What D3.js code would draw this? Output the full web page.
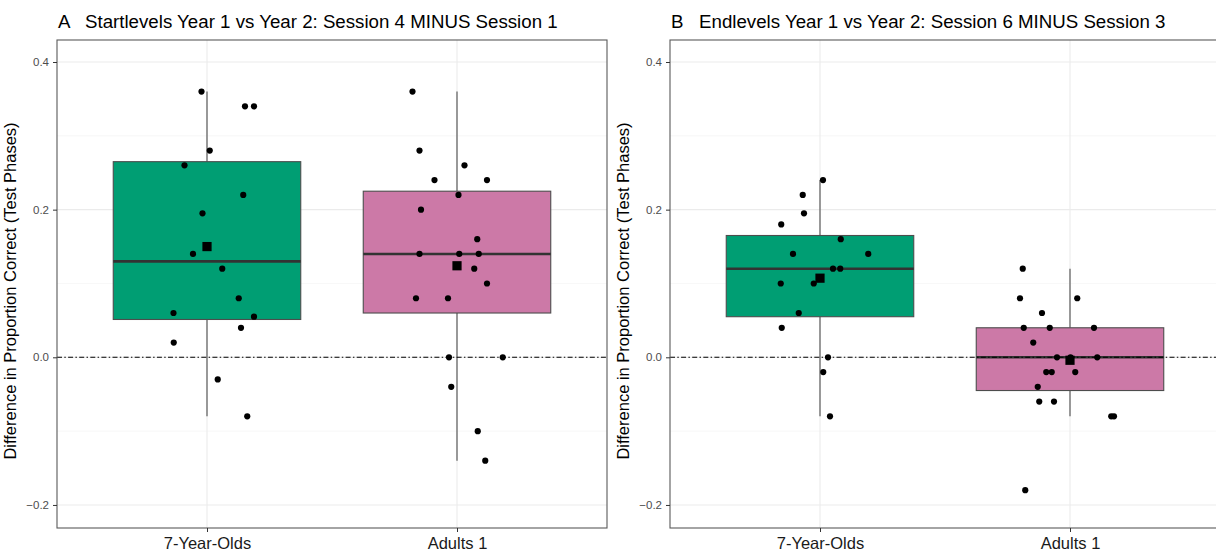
<!DOCTYPE html>
<html>
<head>
<meta charset="utf-8">
<script src="https://cdn.jsdelivr.net/npm/d3@7"></script>
<style>
  body { margin: 0; background: #fff; }
  svg { font-family: "Liberation Sans", Arial, sans-serif; }
</style>
</head>
<body>
<svg id="chart" width="1216" height="552"></svg>
<script>
// groups on the x axis
const categories = ["7-Year-Olds", "Adults 1"];
const yTicks = [-0.2, 0.0, 0.2, 0.4];
const yMinor = [-0.1, 0.1, 0.3];

const titleA = "A   Startlevels Year 1 vs Year 2: Session 4 MINUS Session 1";
const titleB = "B   Endlevels Year 1 vs Year 2: Session 6 MINUS Session 3";
const yLabel = "Difference in Proportion Correct (Test Phases)";

// panel A, start levels
const startKids = [0.36, 0.34, 0.34, 0.28, 0.26, 0.22, 0.195, 0.14, 0.12, 0.08, 0.06, 0.055, 0.04, 0.02, -0.03, -0.08];
const startKidsJitter = [-0.022, 0.152, 0.188, 0.011, -0.09, 0.145, -0.018, -0.056, 0.061, 0.127, -0.134, 0.188, 0.136, -0.133, 0.043, 0.161];
const startAdults = [0.36, 0.28, 0.26, 0.24, 0.24, 0.22, 0.2, 0.16, 0.14, 0.14, 0.14, 0.12, 0.10, 0.08, 0.08, 0, 0, -0.04, -0.10, -0.14];
const startAdultsJitter = [-0.178, -0.15, 0.03, -0.09, 0.12, 0.006, -0.144, 0.081, -0.15, 0.009, 0.087, 0.069, 0.12, -0.164, -0.036, -0.032, 0.183, -0.023, 0.083, 0.113];

// panel B, end levels
const endKids = [0.24, 0.22, 0.195, 0.18, 0.16, 0.14, 0.14, 0.12, 0.12, 0.10, 0.10, 0.06, 0.04, 0, -0.02, -0.08];
const endKidsJitter = [0.012, -0.069, -0.064, -0.155, 0.083, -0.108, 0.193, 0.052, 0.081, -0.025, -0.157, -0.085, -0.153, 0.032, 0.013, 0.04];
const endAdults = [0.12, 0.08, 0.08, 0.06, 0.04, 0.04, 0.04, 0.02, 0, 0, 0, -0.02, -0.02, -0.02, -0.04, -0.06, -0.06, -0.08, -0.08, -0.18];
const endAdultsJitter = [-0.189, -0.2, 0.029, -0.112, -0.185, -0.081, 0.096, -0.147, -0.052, 0.109, 0.002, -0.095, -0.073, 0.021, -0.129, -0.123, -0.064, 0.165, 0.176, -0.179];

const fills = ["#009E73", "#CC79A7"];

const svg = d3.select("#chart");

const panels = [
  { title: titleA, left: 57, right: 607, groups: [[startKids, startKidsJitter], [startAdults, startAdultsJitter]] },
  { title: titleB, left: 670, right: 1220, groups: [[endKids, endKidsJitter], [endAdults, endAdultsJitter]] }
];

const plotTop = 40, plotBottom = 528;

panels.forEach(drawPanel);

function boxStats(values){
  const s = values.slice().sort(d3.ascending);
  const q1 = d3.quantileSorted(s, 0.25);
  const med = d3.quantileSorted(s, 0.5);
  const q3 = d3.quantileSorted(s, 0.75);
  const iqr = q3 - q1;
  const lo = d3.min(s.filter(v => v >= q1 - 1.5 * iqr));
  const hi = d3.max(s.filter(v => v <= q3 + 1.5 * iqr));
  return { q1, med, q3, lo, hi, mean: d3.mean(s) };
}

function drawPanel(p){
  const x = d3.scalePoint().domain(categories).range([p.left, p.right]).padding(0.6);
  const step = x.step();
  const y = d3.scaleLinear().domain([-0.2312, 0.4298]).range([plotBottom, plotTop]);

  const g = svg.append("g");
  const clipId = "clip" + p.left;
  svg.append("clipPath").attr("id", clipId)
     .append("rect").attr("x", p.left).attr("y", plotTop)
     .attr("width", p.right - p.left).attr("height", plotBottom - plotTop);

  const plot = g.append("g").attr("clip-path", "url(#" + clipId + ")");

  // grid
  plot.selectAll(".minor").data(yMinor).enter().append("line")
      .attr("x1", p.left).attr("x2", p.right)
      .attr("y1", d => y(d)).attr("y2", d => y(d))
      .attr("stroke", "#f2f2f2").attr("stroke-width", 0.6);
  plot.selectAll(".major").data(yTicks).enter().append("line")
      .attr("x1", p.left).attr("x2", p.right)
      .attr("y1", d => y(d)).attr("y2", d => y(d))
      .attr("stroke", "#ebebeb").attr("stroke-width", 1.1);
  plot.selectAll(".vmajor").data(categories).enter().append("line")
      .attr("x1", d => x(d)).attr("x2", d => x(d))
      .attr("y1", plotTop).attr("y2", plotBottom)
      .attr("stroke", "#ebebeb").attr("stroke-width", 1.1);

  p.groups.forEach(([vals, jit], i) => {
    const cx = x(categories[i]);
    const st = boxStats(vals);
    const hw = step * 0.75 / 2;

    // whiskers
    plot.append("line").attr("x1", cx).attr("x2", cx)
        .attr("y1", y(st.hi)).attr("y2", y(st.q3))
        .attr("stroke", "#4d4d4d").attr("stroke-width", 1.1);
    plot.append("line").attr("x1", cx).attr("x2", cx)
        .attr("y1", y(st.q1)).attr("y2", y(st.lo))
        .attr("stroke", "#4d4d4d").attr("stroke-width", 1.1);

    plot.append("rect")
        .attr("x", cx - hw).attr("width", 2 * hw)
        .attr("y", y(st.q3)).attr("height", y(st.q1) - y(st.q3))
        .attr("fill", fills[i]).attr("stroke", "#4d4d4d").attr("stroke-width", 1.1);
    plot.append("line")
        .attr("x1", cx - hw).attr("x2", cx + hw)
        .attr("y1", y(st.med)).attr("y2", y(st.med))
        .attr("stroke", "#333333").attr("stroke-width", 2.6);

    p.groups[i].stats = st;
  });

  // reference line at zero
  plot.append("line")
      .attr("x1", p.left).attr("x2", p.right)
      .attr("y1", y(0)).attr("y2", y(0))
      .attr("stroke", "#000").attr("stroke-width", 1.1)
      .attr("stroke-dasharray", "5,2.3,1.5,2.3");

  // jittered points and means
  p.groups.forEach(([vals, jit], i) => {
    const cx = x(categories[i]);
    plot.selectAll(".pt" + i).data(vals).enter().append("circle")
        .attr("cx", (d, k) => cx + jit[k] * step)
        .attr("cy", d => y(d))
        .attr("r", 3.1)
        .attr("fill", "#000");
    const m = p.groups[i].stats.mean;
    plot.append("rect")
        .attr("x", cx - 4.6).attr("y", y(m) - 4.6)
        .attr("width", 9.2).attr("height", 9.2)
        .attr("fill", "#000");
  });

  // frame
  g.append("rect").attr("x", p.left).attr("y", plotTop)
   .attr("width", p.right - p.left).attr("height", plotBottom - plotTop)
   .attr("fill", "none").attr("stroke", "#5a5a5a").attr("stroke-width", 1.1);

  // y axis
  const yAxis = g.append("g").attr("transform", "translate(" + p.left + ",0)")
    .call(d3.axisLeft(y).tickValues(yTicks).tickSize(4).tickPadding(4)
      .tickFormat(d => d === 0 ? "0.0" : d3.format(".1f")(d)));
  yAxis.select(".domain").remove();
  yAxis.selectAll(".tick line").attr("stroke", "#333");
  yAxis.selectAll(".tick text").attr("fill", "#4d4d4d").style("font-size", "11.5px")
       .style("font-family", "'Liberation Sans', Arial, sans-serif");

  // x axis
  const xAxis = g.append("g").attr("transform", "translate(0," + plotBottom + ")")
    .call(d3.axisBottom(x).tickSize(4).tickPadding(5));
  xAxis.select(".domain").remove();
  xAxis.selectAll(".tick line").attr("stroke", "#333");
  xAxis.selectAll(".tick text").attr("fill", "#1a1a1a").style("font-size", "16.5px")
       .style("font-family", "'Liberation Sans', Arial, sans-serif");

  // y label
  g.append("text")
   .attr("transform", "translate(" + (p.left - 41) + ",291) rotate(-90)")
   .attr("text-anchor", "middle")
   .style("font-size", "16.5px").attr("fill", "#000")
   .text(yLabel);

  // title
  g.append("text")
   .attr("x", p.left + 1).attr("y", 28)
   .style("font-size", "18.7px").style("white-space", "pre").attr("fill", "#000")
   .text(p.title);
}
</script>
</body>
</html>
